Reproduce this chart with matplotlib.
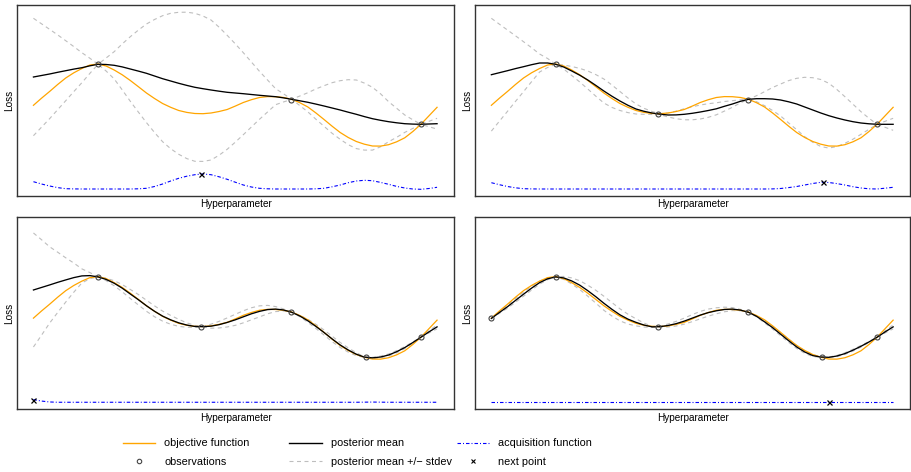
import matplotlib.pyplot as plt
from matplotlib.lines import Line2D

plt.rcParams.update({
    "font.family": ["Liberation Sans", "DejaVu Sans"],
    "lines.scale_dashes": False,
})

# hyperparameter grid (shared by all panels)
hyper = [0.00, 0.02, 0.04, 0.06, 0.08, 0.10, 0.12, 0.14, 0.16, 0.18,
         0.20, 0.22, 0.24, 0.26, 0.28, 0.30, 0.32, 0.34, 0.36, 0.38,
         0.40, 0.42, 0.44, 0.46, 0.48, 0.50, 0.52, 0.54, 0.56, 0.58,
         0.60, 0.62, 0.64, 0.66, 0.68, 0.70, 0.72, 0.74, 0.76, 0.78,
         0.80, 0.82, 0.84, 0.86, 0.88, 0.90, 0.92, 0.94, 0.96, 0.98,
         1.00]

# objective function (same in every panel)
objective = [9.07, 9.78, 10.45, 11.15, 11.80, 12.32, 12.75, 13.10, 13.20, 13.00,
             12.60, 12.12, 11.55, 10.93, 10.30, 9.75, 9.25, 8.87, 8.55, 8.36,
             8.25, 8.23, 8.30, 8.45, 8.65, 8.99, 9.35, 9.63, 9.85, 9.94,
             9.93, 9.85, 9.67, 9.33, 8.90, 8.30, 7.65, 6.98, 6.35, 5.85,
             5.45, 5.18, 5.00, 4.99, 5.13, 5.42, 5.82, 6.45, 7.17, 8.02,
             8.87]

# panel 1 (3 observations)
mean_1 = [11.90, 12.05, 12.20, 12.37, 12.53, 12.69, 12.83, 13.02, 13.17, 13.15,
          13.07, 12.91, 12.70, 12.49, 12.27, 12.00, 11.73, 11.50, 11.27, 11.06,
          10.87, 10.73, 10.60, 10.48, 10.37, 10.30, 10.23, 10.15, 10.07, 10.00,
          9.93, 9.81, 9.67, 9.52, 9.37, 9.19, 9.00, 8.80, 8.60, 8.38,
          8.17, 7.94, 7.73, 7.57, 7.43, 7.32, 7.23, 7.19, 7.17, 7.20,
          7.23]
stdev_1 = [5.87, 5.17, 4.47, 3.74, 3.00, 2.25, 1.50, 0.75, 0.00, 0.65,
           1.36, 2.30, 3.23, 4.10, 4.93, 5.65, 6.30, 6.77, 7.10, 7.32,
           7.40, 7.27, 7.00, 6.40, 5.70, 4.92, 4.10, 3.25, 2.40, 1.60,
           0.80, 0.40, 0.00, 0.48, 0.96, 1.52, 2.03, 2.53, 2.93, 3.25,
           3.43, 3.35, 3.14, 2.65, 2.00, 1.45, 0.87, 0.43, 0.00, 0.27,
           0.54]
acq_1 = [1.43, 1.20, 1.00, 0.84, 0.73, 0.71, 0.70, 0.70, 0.70, 0.70,
         0.70, 0.70, 0.70, 0.72, 0.77, 0.95, 1.20, 1.50, 1.77, 1.98,
         2.13, 2.20, 2.13, 1.92, 1.67, 1.38, 1.10, 0.90, 0.77, 0.72,
         0.70, 0.70, 0.70, 0.70, 0.70, 0.72, 0.77, 0.92, 1.10, 1.33,
         1.50, 1.57, 1.53, 1.36, 1.17, 0.96, 0.80, 0.70, 0.67, 0.75,
         0.87]
obs_x_1 = [0.16, 0.638, 0.959]
obs_y_1 = [13.17, 9.65, 7.17]
next_1 = (0.415, 2.20)

# panel 2 (4 observations)
mean_2 = [12.13, 12.33, 12.53, 12.74, 12.93, 13.13, 13.30, 13.30, 13.17, 12.90,
          12.50, 12.08, 11.60, 11.06, 10.50, 9.98, 9.50, 9.07, 8.70, 8.47,
          8.30, 8.18, 8.10, 8.11, 8.17, 8.27, 8.40, 8.55, 8.72, 8.97,
          9.20, 9.47, 9.67, 9.73, 9.73, 9.70, 9.60, 9.42, 9.20, 8.90,
          8.60, 8.30, 8.03, 7.80, 7.60, 7.43, 7.30, 7.22, 7.17, 7.17,
          7.17]
stdev_2 = [5.64, 4.85, 4.07, 3.28, 2.50, 1.70, 0.90, 0.45, 0.00, 0.20,
           0.45, 0.68, 0.90, 1.08, 1.20, 1.12, 0.95, 0.73, 0.50, 0.30,
           0.15, 0.05, 0.20, 0.38, 0.55, 0.65, 0.70, 0.68, 0.60, 0.48,
           0.33, 0.15, 0.00, 0.30, 0.70, 1.15, 1.60, 2.12, 2.57, 2.97,
           3.23, 3.35, 3.24, 2.85, 2.33, 1.75, 1.13, 0.55, 0.00, 0.30,
           0.60]
acq_2 = [1.33, 1.13, 0.95, 0.82, 0.73, 0.71, 0.70, 0.70, 0.70, 0.70,
         0.70, 0.70, 0.70, 0.70, 0.70, 0.70, 0.70, 0.70, 0.70, 0.70,
         0.70, 0.70, 0.70, 0.70, 0.70, 0.70, 0.70, 0.70, 0.70, 0.70,
         0.70, 0.70, 0.70, 0.70, 0.70, 0.71, 0.75, 0.84, 0.95, 1.10,
         1.25, 1.37, 1.35, 1.24, 1.10, 0.93, 0.80, 0.72, 0.70, 0.78,
         0.87]
obs_x_2 = [0.16, 0.415, 0.638, 0.959]
obs_y_2 = [13.17, 8.20, 9.65, 7.17]
next_2 = (0.825, 1.37)

# panel 3 (5 observations)
mean_3 = [11.87, 12.12, 12.37, 12.63, 12.87, 13.10, 13.27, 13.30, 13.17, 12.92,
          12.54, 12.05, 11.47, 10.90, 10.30, 9.75, 9.27, 8.90, 8.60, 8.38,
          8.24, 8.22, 8.27, 8.42, 8.64, 8.90, 9.20, 9.50, 9.74, 9.92,
          9.97, 9.88, 9.65, 9.28, 8.80, 8.24, 7.64, 7.00, 6.40, 5.90,
          5.48, 5.19, 5.12, 5.20, 5.40, 5.73, 6.14, 6.64, 7.17, 7.70,
          8.20]
stdev_3 = [5.67, 4.75, 3.80, 3.00, 2.20, 1.45, 0.70, 0.30, 0.00, 0.12,
           0.25, 0.36, 0.45, 0.52, 0.55, 0.54, 0.50, 0.44, 0.35, 0.22,
           0.10, 0.03, 0.20, 0.33, 0.45, 0.55, 0.60, 0.60, 0.55, 0.42,
           0.25, 0.10, 0.00, 0.07, 0.15, 0.21, 0.25, 0.27, 0.25, 0.21,
           0.15, 0.02, 0.05, 0.09, 0.10, 0.11, 0.10, 0.06, 0.00, 0.10,
           0.20]
acq_3 = [0.97, 0.82, 0.73, 0.70, 0.70, 0.70, 0.70, 0.70, 0.70, 0.70,
         0.70, 0.70, 0.70, 0.70, 0.70, 0.70, 0.70, 0.70, 0.70, 0.70,
         0.70, 0.70, 0.70, 0.70, 0.70, 0.70, 0.70, 0.70, 0.70, 0.70,
         0.70, 0.70, 0.70, 0.70, 0.70, 0.70, 0.70, 0.70, 0.70, 0.70,
         0.70, 0.71, 0.72, 0.71, 0.70, 0.70, 0.70, 0.70, 0.70, 0.70,
         0.70]
obs_x_3 = [0.16, 0.415, 0.638, 0.823, 0.959]
obs_y_3 = [13.17, 8.20, 9.65, 5.17, 7.17]
next_3 = (0.0, 0.97)

# panel 4 (6 observations)
mean_4 = [9.04, 9.63, 10.20, 10.83, 11.45, 12.05, 12.60, 12.98, 13.17, 13.07,
          12.77, 12.35, 11.80, 11.20, 10.55, 9.95, 9.40, 8.97, 8.65, 8.38,
          8.20, 8.22, 8.34, 8.52, 8.77, 9.07, 9.37, 9.62, 9.80, 9.93,
          9.97, 9.87, 9.65, 9.25, 8.70, 8.12, 7.47, 6.82, 6.20, 5.70,
          5.34, 5.20, 5.17, 5.30, 5.54, 5.88, 6.27, 6.70, 7.17, 7.70,
          8.20]
stdev_4 = [0.00, 0.08, 0.15, 0.18, 0.20, 0.19, 0.15, 0.08, 0.00, 0.15,
           0.30, 0.44, 0.55, 0.64, 0.70, 0.67, 0.60, 0.49, 0.35, 0.20,
           0.05, 0.05, 0.15, 0.23, 0.30, 0.35, 0.37, 0.35, 0.30, 0.23,
           0.15, 0.07, 0.00, 0.05, 0.10, 0.13, 0.15, 0.16, 0.15, 0.13,
           0.10, 0.02, 0.03, 0.06, 0.08, 0.09, 0.08, 0.05, 0.00, 0.10,
           0.20]
acq_4 = [0.70] * 51
obs_x_4 = [0.0, 0.16, 0.415, 0.638, 0.823, 0.959]
obs_y_4 = [9.05, 13.17, 8.20, 9.65, 5.17, 7.17]
next_4 = (0.84, 0.77)

panels = [
    (mean_1, stdev_1, acq_1, obs_x_1, obs_y_1, next_1),
    (mean_2, stdev_2, acq_2, obs_x_2, obs_y_2, next_2),
    (mean_3, stdev_3, acq_3, obs_x_3, obs_y_3, next_3),
    (mean_4, stdev_4, acq_4, obs_x_4, obs_y_4, next_4),
]

W, H = 911, 472
# panel boxes in pixels: left, top, right, bottom
boxes = [(17.3, 5, 454, 196), (475.3, 5, 910, 196),
         (17.3, 217.3, 454, 409.3), (475.3, 217.3, 910, 409.3)]

ORANGE = "#FFA500"
GREY = "#BEBEBE"
BLUE = "#0000FF"
px = 0.72  # one pixel in points
GREY_DASH = (0, (4 * px, 3.5 * px))
BLUE_DASH = (0, (3.5 * px, 2 * px, 1 * px, 2 * px))

fig = plt.figure(figsize=(W / 100, H / 100), dpi=100)

for (mean, sd, acq, ox, oy, nxt), (l, t, r, b) in zip(panels, boxes):
    ax = fig.add_axes([l / W, 1 - b / H, (r - l) / W, (b - t) / H])
    upper = [m + s for m, s in zip(mean, sd)]
    lower = [m - s for m, s in zip(mean, sd)]
    ax.plot(hyper, upper, color=GREY, lw=0.8, linestyle=GREY_DASH)
    ax.plot(hyper, lower, color=GREY, lw=0.8, linestyle=GREY_DASH)
    ax.plot(hyper, objective, color=ORANGE, lw=0.9)
    ax.plot(hyper, mean, color="black", lw=0.95)
    ax.plot(hyper, acq, color=BLUE, lw=0.8, linestyle=BLUE_DASH)
    ax.plot(ox, oy, linestyle="none", marker="o", ms=3.6, mfc="none",
            mec="#444444", mew=0.8)
    ax.plot([nxt[0]], [nxt[1]], linestyle="none", marker="x", ms=3.6,
            color="black", mew=0.9)
    ax.set_xlim(-0.04, 1.042)
    ax.set_ylim(0, 19.1)
    ax.set_xticks([])
    ax.set_yticks([])
    for s in ax.spines.values():
        s.set_color("#333333")
        s.set_linewidth(1.0)
    ax.set_xlabel("Hyperparameter", fontsize=7.2, labelpad=2.5)
    ax.set_ylabel("Loss", fontsize=7.2, labelpad=2.5)

# legend in three columns
h_obj = Line2D([], [], color=ORANGE, lw=1.0)
h_obs = Line2D([], [], linestyle="none", marker="o", ms=3.2, mfc="none",
               mec="#444444", mew=0.8)
h_mean = Line2D([], [], color="black", lw=1.0)
h_sd = Line2D([], [], color=GREY, lw=0.8, linestyle=GREY_DASH)
h_acq = Line2D([], [], color=BLUE, lw=0.8, linestyle=BLUE_DASH)
h_next = Line2D([], [], linestyle="none", marker="x", ms=3.2, color="black",
                mew=0.8)

columns = [
    ([h_obj, h_obs], ["objective function", "observations"], 122.7),
    ([h_mean, h_sd], ["posterior mean", "posterior mean +/\u2212 stdev"], 289.3),
    ([h_acq, h_next], ["acquisition function", "next point"], 456.7),
]
for handles, labels, x0 in columns:
    fig.legend(handles, labels, loc="center left",
               bbox_to_anchor=(x0 / W, 1 - 452.7 / H),
               frameon=False, fontsize=7.8, borderpad=0,
               borderaxespad=0, handlelength=3.0, handletextpad=0.85,
               labelspacing=0.78)

fig.savefig("out.png", dpi=100)
